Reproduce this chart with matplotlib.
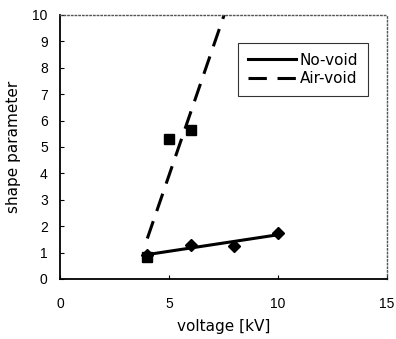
import numpy as np
import matplotlib
matplotlib.use("Agg")
import matplotlib.pyplot as plt

plt.rcParams['font.family'] = ['DejaVu Sans']

# data
no_void_v = [4, 6, 8, 10]
no_void_shape = [0.9, 1.3, 1.25, 1.75]
air_void_v = [4, 5, 6]
air_void_shape = [0.85, 5.3, 5.65]

fig = plt.figure(figsize=(3.96, 3.39), dpi=100)
ax = fig.add_axes([0.152, 0.177, 0.825, 0.779])

# linear trend lines through each series
k1, b1 = np.polyfit(no_void_v, no_void_shape, 1)
xs1 = np.array([4, 10])
ax.plot(xs1, k1 * xs1 + b1, color='black', lw=2.2, label='No-void')

k2, b2 = np.polyfit(air_void_v, air_void_shape, 1)
xs2 = np.array([4, 8])
ax.plot(xs2, k2 * xs2 + b2, color='black', lw=2.2, ls=(0, (6, 3.5)), label='Air-void')

ax.plot(no_void_v, no_void_shape, 'D', color='black', ms=6, ls='none')
ax.plot(air_void_v, air_void_shape, 's', color='black', ms=7.5, ls='none')

ax.set_xlim(0, 15)
ax.set_ylim(0, 10)
ax.set_xticks([0, 5, 10, 15])
ax.set_yticks(range(0, 11))
ax.tick_params(axis='x', direction='in', length=3, pad=13, labelsize=10)
ax.tick_params(axis='y', direction='in', length=3, pad=9, labelsize=10)
for lab in ax.get_xticklabels() + ax.get_yticklabels():
    lab.set_family('Liberation Sans')

for s in ['top', 'right']:
    ax.spines[s].set_linestyle(':')
    ax.spines[s].set_color('#555555')
    ax.spines[s].set_linewidth(1)
for s in ['left', 'bottom']:
    ax.spines[s].set_linewidth(1.3)

ax.set_xlabel('voltage [kV]', fontsize=11, labelpad=6)
ax.set_ylabel('shape parameter', fontsize=11, labelpad=8)

leg = ax.legend(loc='upper left', bbox_to_anchor=(0.543, 0.895), fontsize=11,
                handlelength=3.2, frameon=True, fancybox=False, borderpad=0.65,
                labelspacing=0.25, handletextpad=0.2, borderaxespad=0)
leg.get_frame().set_edgecolor('black')
leg.get_frame().set_linewidth(0.8)

fig.savefig('out.png', dpi=100)
